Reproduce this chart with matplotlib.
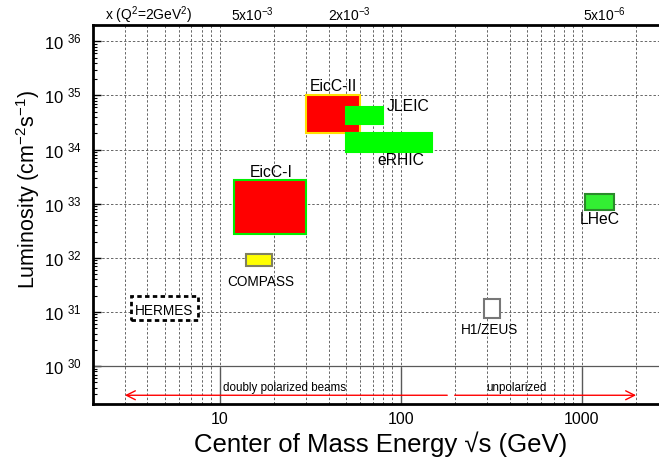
import numpy as np
import matplotlib
matplotlib.use("Agg")
import matplotlib.pyplot as plt
from matplotlib.patches import Rectangle
from matplotlib.ticker import FixedLocator, FuncFormatter, LogLocator, NullFormatter
import matplotlib.transforms as mtransforms

plt.rcParams['font.family'] = ['Liberation Sans', 'DejaVu Sans']
plt.rcParams['mathtext.fontset'] = 'custom'
plt.rcParams['mathtext.rm'] = 'Liberation Sans'
plt.rcParams['mathtext.it'] = 'Liberation Sans:italic'
plt.rcParams['mathtext.bf'] = 'Liberation Sans:bold'

# facilities: sqrt(s) range (GeV) and luminosity range (cm^-2 s^-1)
names = ["EicC-II", "JLEIC", "eRHIC", "EicC-I", "LHeC", "COMPASS", "HERMES", "H1/ZEUS"]
e_lo = [30, 50, 50, 12, 1050, 14, 3.25, 290]
e_hi = [60, 80, 150, 30, 1500, 19.5, 7.6, 356]
l_lo = [2e34, 3e34, 9e33, 2.8e32, 7.5e32, 7e31, 7e30, 7.8e30]
l_hi = [1e35, 6e34, 2e34, 2.8e33, 1.5e33, 1.2e32, 2e31, 1.76e31]
faces = ["#ff0000", "#00ff00", "#00ff00", "#ff0000", "#33ee33", "#ffff00", "white", "white"]
edges = ["#ffe000", "#00ff00", "#00ff00", "#00ee00", "#2a8a2a", "#808060", "black", "#777777"]

# top axis: Bjorken x at Q^2 = 2 GeV^2
x_labels = ["x (Q$^2$=2GeV$^2$)", "5x10$^{-3}$", "2x10$^{-3}$", "5x10$^{-6}$"]
x_label_pos = [2.32, 11.6, 39.5, 1014]

fig = plt.figure(figsize=(6.59, 4.59), dpi=100)
ax = fig.add_axes([93/659, 55/459, (668-93)/659, 379/459])
ax.set_xscale("log")
ax.set_yscale("log")
ax.set_xlim(2, 3000)
ax.set_ylim(2e29, 2e36)
ax.set_axisbelow(True)

# grid
ax.xaxis.set_minor_locator(LogLocator(base=10, subs=np.arange(2, 10)))
ax.xaxis.set_minor_formatter(NullFormatter())
ax.yaxis.set_major_locator(FixedLocator([1e30, 1e31, 1e32, 1e33, 1e34, 1e35, 1e36]))
ax.yaxis.set_minor_locator(LogLocator(base=10, subs=np.arange(2, 10), numticks=20))
ax.yaxis.set_minor_formatter(NullFormatter())
ax.grid(True, which="both", axis="x", ls=(0, (2.5, 2)), color="0.4", lw=0.7)
ax.grid(True, which="major", axis="y", ls=(0, (2.5, 2)), color="0.4", lw=0.7)
ax.axhline(1e30, color="0.35", lw=0.9, zorder=0.6)

ax.yaxis.set_major_formatter(FuncFormatter(lambda v, p: "10 $^{%d}$" % round(np.log10(v))))
ax.xaxis.set_major_locator(FixedLocator([10, 100, 1000]))
ax.xaxis.set_major_formatter(FuncFormatter(lambda v, p: "%d" % v))

ax.tick_params(axis="y", which="major", direction="in", length=6, width=1, labelsize=12, pad=8)
ax.tick_params(axis="y", which="minor", direction="in", length=3, width=0.8)
ax.tick_params(axis="x", which="major", direction="in", length=27, width=1, color="0.35", labelsize=11.5, pad=6)
ax.tick_params(axis="x", which="minor", length=0)

for s in ["left", "bottom", "top"]:
    ax.spines[s].set_linewidth(2)
ax.spines["right"].set_visible(False)

# facility boxes
for i in range(len(names)):
    ls = (0, (1.6, 1.2)) if names[i] == "HERMES" else "-"
    lw = 2 if names[i] == "HERMES" else 1.5
    ax.add_patch(Rectangle((e_lo[i], l_lo[i]), e_hi[i] - e_lo[i], l_hi[i] - l_lo[i],
                           facecolor=faces[i], edgecolor=edges[i], lw=lw, ls=ls, zorder=2))

big = 11.3
small = 9.8
ax.text(31.4, 1.45e35, "EicC-II", fontsize=big, ha="left", va="center")
ax.text(83.8, 6.2e34, "JLEIC", fontsize=big, ha="left", va="center")
ax.text(74.6, 6.3e33, "eRHIC", fontsize=big, ha="left", va="center")
ax.text(975, 5.1e32, "LHeC", fontsize=big, ha="left", va="center")
ax.text(19.4, 3.8e33, "EicC-I", fontsize=big, ha="center", va="center")
ax.text(16.9, 3.6e31, "COMPASS", fontsize=small, ha="center", va="center")
ax.text(4.91, 1.06e31, "HERMES", fontsize=small, ha="center", va="center", zorder=3)
ax.text(310, 4.7e30, "H1/ZEUS", fontsize=small, ha="center", va="center")

# polarization arrows
ax.annotate("", xy=(3, 2.9e29), xytext=(181, 2.9e29),
            arrowprops=dict(arrowstyle="->", color="red", lw=1, mutation_scale=16, shrinkA=0, shrinkB=0))
ax.annotate("", xy=(2000, 2.9e29), xytext=(199, 2.9e29),
            arrowprops=dict(arrowstyle="->", color="red", lw=1, mutation_scale=16, shrinkA=0, shrinkB=0))
ax.text(22.9, 3.9e29, "doubly polarized beams", fontsize=8.4, ha="center", va="center")
ax.text(438, 3.9e29, "unpolarized", fontsize=8.4, ha="center", va="center")

trans = mtransforms.blended_transform_factory(ax.transData, ax.transAxes)
for lab, xp in zip(x_labels, x_label_pos):
    ax.text(xp, 1.026, lab, fontsize=10, ha="left", va="center", transform=trans, clip_on=False)

ax.set_xlabel("Center of Mass Energy \u221as (GeV)", fontsize=18.5, labelpad=3)
fig.text(28/659, 1 - 190/459, "Luminosity (cm$^{-2}$s$^{-1}$)", fontsize=15.5,
         rotation=90, ha="center", va="center")

fig.savefig("out.png", dpi=100)
